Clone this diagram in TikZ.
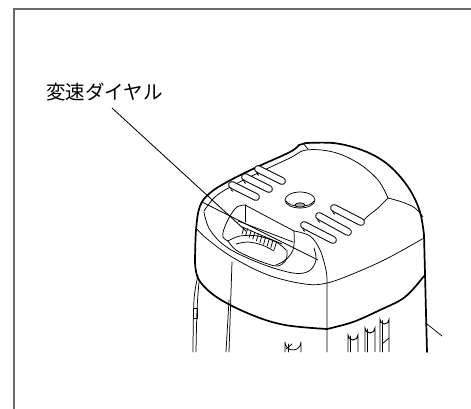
\documentclass[tikz,border=0pt]{standalone}
\usepackage{fontspec}
\newfontfamily\jpfont{Noto Sans CJK JP}
\begin{document}
\begin{tikzpicture}[x=1pt,y=-1pt,
  thickline/.style={line width=1.7pt,line join=round,line cap=round},
  thinline/.style={line width=0.75pt,line join=round,line cap=round},
  leader/.style={line width=0.85pt},
  framebox/.style={draw=black!58,line width=1.6pt}]
\useasboundingbox (0,0) rectangle (471,408);
\clip (0,0) rectangle (471,408);

% outer frame
\draw[framebox] (14,9) rectangle (490,430);

% label and leader line
\node[anchor=south west,inner sep=0pt,font=\jpfont\fontsize{19.5}{20}\selectfont] (label) at (46,101) {変速ダイヤル};
\coordinate (tip) at (246,231);
\draw[leader] (112,108) -- (tip);

% ---- cap: outer contour of the top face
\draw[thickline] plot[smooth,tension=0.6] coordinates {(195,262) (196,230) (200,206) (210,193) (227,182) (257,167) (290,152) (299,145)}
  -- (306,143);
\draw[thickline] plot[smooth,tension=0.6] coordinates {(306,143) (333,143) (356,148) (377,157) (394,170) (410,190) (420,212) (424,235)}
  -- (427,352);
\draw[thinline] (303,143) -- (308,149);

% raised plate outline
\draw[thinline] plot[smooth,tension=0.6] coordinates {(204,211) (215,197) (232,186) (260,172) (290,158) (306,150) (333,152) (358,163) (378,180) (388,198)};
\draw[thinline] plot[smooth,tension=0.6] coordinates {(388,198) (378,208) (368,216) (362,222)};
\draw[thinline] plot[smooth,tension=0.6] coordinates {(388,198) (402,202) (415,208) (423,217)};

% long diagonal edges across the front of the top face
\draw[thinline] (202,202) -- (318,260);
\draw[thinline] (245,205) -- (294,231);
\draw[thinline] plot[smooth,tension=0.6] coordinates {(294,231) (310,236) (320,250) (326,270) (327,282)} -- (327,352);

% scoop under the dial
\draw[thinline] plot[smooth,tension=0.6] coordinates {(204,212) (210,230) (228,248) (262,264) (293,273) (309,271) (316,260) (314,248)};

% band line between top face and side band
\draw[thinline] plot[smooth,tension=0.6] coordinates {(197,229) (206,238) (232,257) (268,275) (305,284) (327,283) (355,273) (388,258) (424,238)};

% bottom edge of the cap
\draw[thickline] plot[smooth,tension=0.6] coordinates {(195,262) (199,280) (218,298) (252,315) (285,325) (327,329)};
\draw[thickline] plot[smooth,tension=0.6] coordinates {(327,329) (353,322) (380,310) (405,297) (424,276)};

% ---- dial recess
\draw[thinline] plot[smooth,tension=0.6] coordinates {(245,205) (237,207) (230,216) (224,229) (223,237) (228,241)};
\draw[thinline] (245,205) -- (245,222);
\draw[thinline] (238,221) -- (293,242);
\draw[thinline] plot[smooth,tension=0.6] coordinates {(294,231) (294,245) (291,254) (284,261) (276,265)};
% dial wheel
\draw[thinline] plot[smooth,tension=0.6] coordinates {(228,241) (240,236) (258,236) (276,242) (286,250)};
\draw[thinline] plot[smooth,tension=0.6] coordinates {(228,241) (236,250) (252,258) (268,264) (278,266) (286,260) (287,250)};
\draw[thinline] plot[smooth,tension=0.6] coordinates {(236,244) (248,242) (262,245) (274,251)};
\foreach \i in {0,...,9}{
  \draw[thinline] ({244+3.6*\i},{227+1.7*\i}) -- ++(-2,7);
}
\draw[thinline] (242,227) -- (282,244);

% ---- vent slots on the top face
\foreach \a/\b in {{(258,169)}/{(282,181)},{(245,177)}/{(269,189)},{(232,185)}/{(256,197)},
                   {(334,208)}/{(361,222)},{(319,216)}/{(348,232)},{(304,225)}/{(333,240)}}{
  \draw[line width=7.8pt,line cap=round] \a -- \b;
  \draw[white,line width=5.8pt,line cap=round] \a -- \b;
}
\foreach \x/\y in {258/169,245/177,232/185,334/208,319/216,304/225}{
  \draw[thinline] (\x-1,\y+2.6) arc[start angle=200,end angle=110,radius=3];
}

% round button with screw
\draw[thinline] (300,200) ellipse[x radius=15,y radius=8];
\draw[thinline] (286,201) .. controls (290,208) and (310,208) .. (314,201);
\draw[thinline,fill=black!35] (300,205) ellipse[x radius=5,y radius=2.2];

% ---- body below the cap
\draw[thinline] plot[smooth,tension=0.6] coordinates {(198,276) (194,300) (193,352)};
\draw[thinline] plot[smooth,tension=0.6] coordinates {(199,282) (197,310) (196,352)};
\draw[thinline] (193,308) rectangle (197,318);
\draw[thinline] (232,262) -- (229,352);
\draw[thinline] (229,300) -- (226,352);
% body slots
\draw[thinline] (285,352) -- (285,342) arc[start angle=180,end angle=0,radius=8] -- (301,352);
\draw[thinline] (288,352) -- (288,344);
\draw[thinline] (286,349) -- (292,344);
\foreach \x/\y/\w in {348/330/10,365/323/10,380/315/9}{
  \draw[line width=0.95pt] (\x,352) -- (\x,\y+\w/2) arc[start angle=180,end angle=0,radius=\w/2] -- (\x+\w,352);
  \draw[thinline] (\x+2,352) -- (\x+2,\y+\w/2+1);
}
\draw[thinline] (382,344) -- (389,338);
% right side
\draw[thinline] (427,324) -- (442,336);
\end{tikzpicture}
\end{document}
